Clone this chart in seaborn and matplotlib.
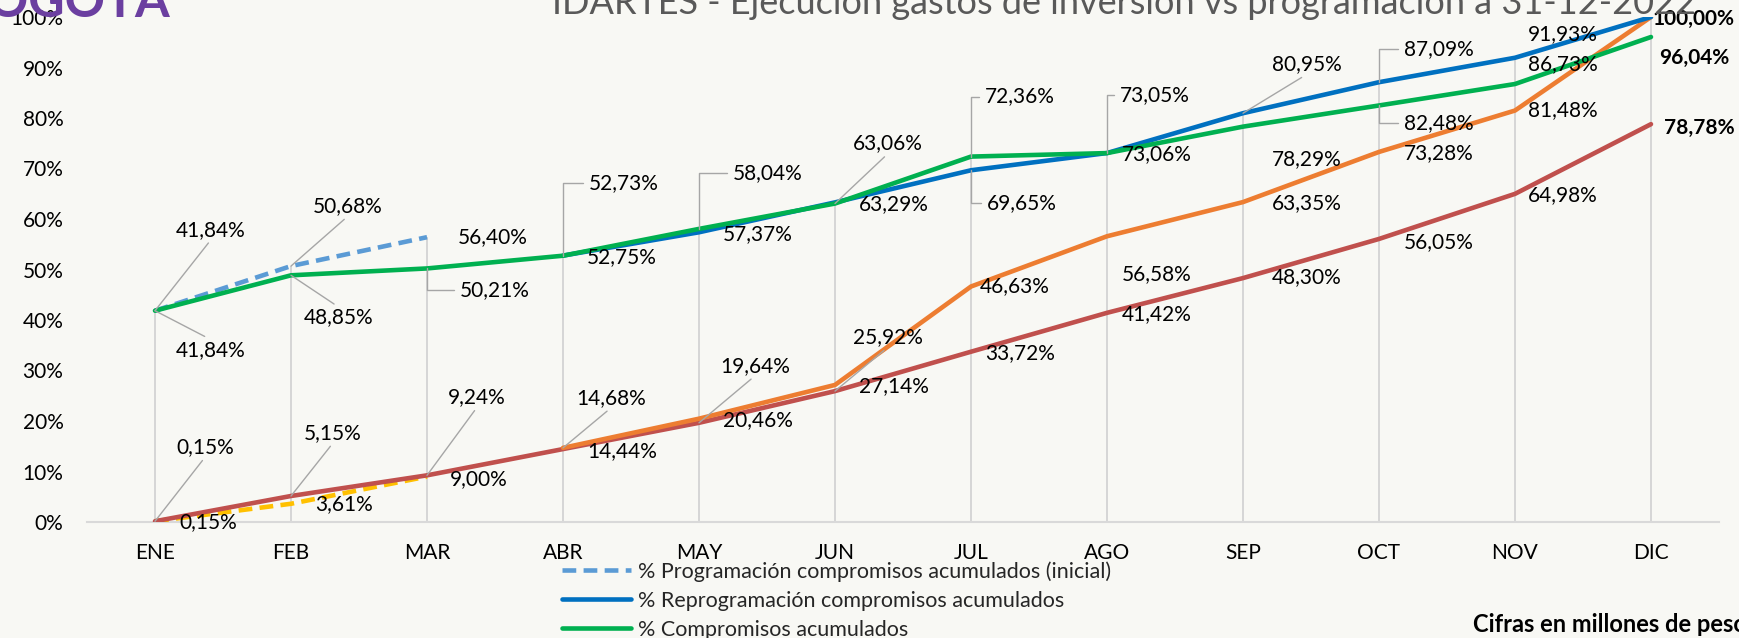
import matplotlib
matplotlib.use("Agg")
import matplotlib.pyplot as plt
import seaborn as sns
import numpy as np
import pandas as pd

# meses
meses = ["ENE", "FEB", "MAR", "ABR", "MAY", "JUN", "JUL", "AGO", "SEP", "OCT", "NOV", "DIC"]
nan = np.nan

# series en %
prog_comp_ini = [41.84, 50.68, 56.40, nan, nan, nan, nan, nan, nan, nan, nan, nan]
reprog_comp = [nan, nan, nan, 52.75, 57.37, 63.29, 69.65, 73.06, 80.95, 87.09, 91.93, 100.00]
compromisos = [41.84, 48.85, 50.21, 52.73, 58.04, 63.06, 72.36, 73.05, 78.29, 82.48, 86.73, 96.04]
prog_oblig_ini = [0.15, 3.61, 9.00, nan, nan, nan, nan, nan, nan, nan, nan, nan]
reprog_oblig = [nan, nan, nan, 14.68, 20.46, 27.14, 46.63, 56.58, 63.35, 73.28, 81.48, 100.00]
obligaciones = [0.15, 5.15, 9.24, 14.44, 19.64, 25.92, 33.72, 41.42, 48.30, 56.05, 64.98, 78.78]

nombres = [
    "% Programación compromisos acumulados (inicial)",
    "% Reprogramación compromisos acumulados",
    "% Compromisos acumulados",
]

series = {
    "prog_c": (prog_comp_ini, "#5B9BD5", True),
    "reprog_c": (reprog_comp, "#0070C0", False),
    "comp": (compromisos, "#00B050", False),
    "prog_o": (prog_oblig_ini, "#FFC000", True),
    "reprog_o": (reprog_oblig, "#ED7D31", False),
    "oblig": (obligaciones, "#C0504D", False),
}

# etiquetas: (serie, mes, dx px, dy px, guia, negrita)
etiquetas = [
    ("prog_c", 0, 56, 81, "d", False), ("prog_c", 1, 57, 60, "d", False), ("prog_c", 2, 66, 0, None, False),
    ("comp", 0, 56, -39, "d", False), ("comp", 1, 48, -42, "d", False), ("comp", 2, 68, -22, "e", False),
    ("comp", 3, 61, 73, "e", False), ("comp", 4, 69, 56, "e", False), ("comp", 5, 53, 60, "d", False),
    ("comp", 6, 49, 60, "e", False), ("comp", 7, 48, 58, "e", False), ("comp", 8, 64, -32, None, False),
    ("comp", 9, 60, -18, "e", False), ("comp", 10, 48, 20, None, False), ("comp", 11, 43, -21, None, True),
    ("reprog_c", 3, 59, -1, None, False), ("reprog_c", 4, 59, -2, None, False), ("reprog_c", 5, 59, -2, None, False),
    ("reprog_c", 6, 51, -33, "e", False), ("reprog_c", 7, 50, -1, None, False), ("reprog_c", 8, 64, 49, "d", False),
    ("reprog_c", 9, 60, 33, "e", False), ("reprog_c", 10, 48, 24, None, False), ("reprog_c", 11, 43, -2, None, True),
    ("reprog_o", 3, 48, 50, "d", False), ("reprog_o", 4, 59, -1, None, False), ("reprog_o", 5, 59, -1, None, False),
    ("reprog_o", 6, 44, 0, None, False), ("reprog_o", 7, 50, -38, None, False), ("reprog_o", 8, 64, -1, None, False),
    ("reprog_o", 9, 60, -1, None, False), ("reprog_o", 10, 48, 0, None, False),
    ("oblig", 0, 50, 74, "d", False), ("oblig", 1, 42, 63, "d", False), ("oblig", 2, 50, 78, "d", False),
    ("oblig", 3, 59, -2, None, False), ("oblig", 4, 56, 57, "d", False), ("oblig", 5, 53, 54, "d", False),
    ("oblig", 6, 49, -1, None, False), ("oblig", 7, 50, -1, None, False), ("oblig", 8, 64, 1, None, False),
    ("oblig", 9, 60, -3, None, False), ("oblig", 10, 48, -1, None, False), ("oblig", 11, 48, -4, None, True),
    ("prog_o", 0, 53, -1, None, False), ("prog_o", 1, 53, 0, None, False), ("prog_o", 2, 52, -3, None, False),
]

bg = "#F8F8F4"
sns.set_theme(style="white")
plt.rcParams["font.family"] = ["Lato", "DejaVu Sans"]

fig = plt.figure(figsize=(17.4, 6.38), dpi=100, facecolor=bg)
ax = fig.add_axes([87 / 1740, 1 - 522 / 638, (1719 - 87) / 1740, (522 - 17) / 638])
ax.set_facecolor(bg)

x = np.arange(len(meses))

# lineas de caida
tope = np.nanmax(np.array([v for v, _, _ in series.values()], dtype=float), axis=0)
ax.vlines(x, 0, tope, color="#D0D0D0", lw=1.2, zorder=1)

orden = ["prog_c", "prog_o", "oblig", "reprog_o", "reprog_c", "comp"]
handles = {}
for key in orden:
    vals, color, dashed = series[key]
    df = pd.DataFrame({"x": x, "y": vals}).dropna()
    ls = (0, (3, 1.6)) if dashed else "-"
    sns.lineplot(data=df, x="x", y="y", ax=ax, color=color, lw=3.3, linestyle=ls,
                 solid_capstyle="round", zorder=3)
    handles[key] = ax.lines[-1]

for key, i, dx, dy, guia, negrita in etiquetas:
    v = series[key][0][i]
    txt = f"{v:.2f}%".replace(".", ",")
    kw = dict(xy=(i, v), xytext=(dx, dy), textcoords="offset pixels", ha="center", va="center",
              fontsize=15, color="black", fontweight="bold" if negrita else "normal",
              annotation_clip=False, zorder=5)
    if guia == "d":
        kw["arrowprops"] = dict(arrowstyle="-", color="#A6A6A6", lw=1, shrinkA=0, shrinkB=0,
                                relpos=(0.5, 0) if dy > 0 else (0.5, 1))
    elif guia == "e":
        kw["arrowprops"] = dict(arrowstyle="-", color="#A6A6A6", lw=1, shrinkA=2, shrinkB=0,
                                relpos=(0, 0.5), connectionstyle="angle,angleA=0,angleB=90,rad=0")
    ax.annotate(txt, **kw)

ax.set_xlim(-0.5, 11.5)
ax.set_ylim(0, 100)
ax.set_xticks(x)
ax.set_xticklabels(meses)
ax.set_yticks(range(0, 101, 10))
ax.set_yticklabels([f"{t}%" for t in range(0, 101, 10)])
ax.tick_params(axis="x", length=0, pad=15, labelsize=15, labelcolor="black")
ax.tick_params(axis="y", length=0, pad=17, labelsize=15, labelcolor="black")
ax.set_xlabel("")
ax.set_ylabel("")
for s in ["top", "right", "left"]:
    ax.spines[s].set_visible(False)
ax.spines["bottom"].set_color("#D9D9D9")
ax.spines["bottom"].set_linewidth(1.5)

leg = fig.legend([handles["prog_c"], handles["reprog_c"], handles["comp"]], nombres,
                 loc="upper left", bbox_to_anchor=(562 / 1740, 1 - 561 / 638),
                 frameon=False, fontsize=15.5, handlelength=3.2, handletextpad=0.35,
                 labelspacing=0.42, borderpad=0, borderaxespad=0)

# titulo y logo (recortados arriba)
fig.text(552 / 1740, 1 - 14 / 638, "IDARTES - Ejecución gastos de inversión vs programación a 31-12-2022",
         fontsize=26, color="#595959", ha="left", va="baseline")
fig.text(170 / 1740, 1 - 17 / 638, "BOGOTÁ", fontsize=36, fontweight="bold", color="#6B3FA0",
         ha="right", va="baseline")
fig.text(1473 / 1740, 1 - 625 / 638, "Cifras en millones de pesos", fontsize=17, fontweight="bold",
         color="black", ha="left", va="center")

fig.savefig("out.png", dpi=100, facecolor=bg)
